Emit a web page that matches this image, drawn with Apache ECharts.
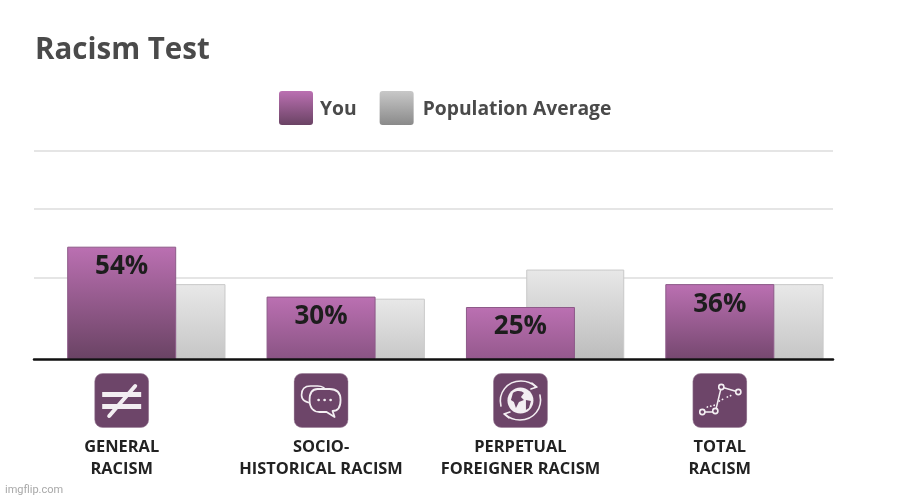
<!DOCTYPE html>
<html>
<head>
<meta charset="utf-8">
<title>Racism Test</title>
<script src="https://cdn.jsdelivr.net/npm/echarts@6/dist/echarts.min.js"></script>
<style>
html, body { margin: 0; padding: 0; background: #fff; }
#chart { width: 917px; height: 499px; }
</style>
</head>
<body>
<div id="chart"></div>
<script>
var categories = [['GENERAL', 'RACISM'], ['SOCIO-', 'HISTORICAL RACISM'], ['PERPETUAL', 'FOREIGNER RACISM'], ['TOTAL', 'RACISM']];
var youValues = [54, 30, 25, 36];
var averageValues = [36, 29, 43, 36];
var gridValues = [39, 72, 100];
var youBottoms = ['#6a4364', '#8a5484', '#95598d', '#764870'];
var averageBottoms = ['#c6c6c6', '#c8c8c8', '#bcbcbc', '#c6c6c6'];

function gradient(top, bottom) {
    return new echarts.graphic.LinearGradient(0, 0, 0, 1, [
        { offset: 0, color: top },
        { offset: 1, color: bottom }
    ]);
}

// icon tiles for the axis labels
function tile(body) {
    var svg = '<svg xmlns="http://www.w3.org/2000/svg" width="165" height="165" viewBox="0 0 55 55">' +
        '<rect x="0.5" y="0.5" width="54" height="54" rx="8" fill="#6d4569" stroke="#9c7f99" stroke-width="0.6"/>' +
        '<g fill="none" stroke="#f3eef2" stroke-linecap="round" stroke-linejoin="round">' + body + '</g></svg>';
    return 'data:image/svg+xml;charset=utf-8,' + encodeURIComponent(svg);
}
var icons = [
    tile('<path d="M8 21.5H47M8 33.5H47" stroke-width="5" stroke-linecap="butt"/><path d="M15 43L41 13" stroke-width="4"/>'),
    tile('<path d="M20 30c-6 0-12-1-12-8 0-6 3-9 9-9h7c5 0 8 2 9 6" stroke-width="1.6"/>' +
        '<path d="M24 16h12c7 0 11 4 11 11 0 7-3 11-8 11l2 6-8-5H26c-6 0-10-4-10-12 0-7 3-11 8-11z" stroke-width="1.8" fill="#6d4569"/>' +
        '<path d="M25 27h.1M31 27h.1M37 27h.1" stroke-width="2.6"/>'),
    tile('<circle cx="27.5" cy="27.5" r="13" fill="#f3eef2" stroke="none"/>' +
        '<path d="M20 20c4-3 9-2 11 0l-3 4 3 3-5 2-3 6-2-6-3-2zM33 27l5 1-2 7-3 2z" fill="#6d4569" stroke="none"/>' +
        '<path d="M8 33C5 20 14 8 28 8c6 0 11 2 15 6M47 22c3 13-6 25-20 25-6 0-11-2-15-6" stroke-width="1.6"/>' +
        '<path d="M39 10l5 4-6 2M16 45l-5-4 6-2" stroke-width="1.6"/>'),
    tile('<path d="M11 39H23L29 14L46 19" stroke-width="1.5"/>' +
        '<circle cx="10" cy="39" r="2.6" stroke-width="1.6" fill="#6d4569"/><circle cx="23" cy="38" r="2.6" stroke-width="1.6" fill="#6d4569"/>' +
        '<circle cx="29" cy="14" r="2.6" stroke-width="1.6" fill="#6d4569"/><circle cx="46" cy="19" r="2.6" stroke-width="1.6" fill="#6d4569"/>' +
        '<path d="M15 34l8-2M27 28l4-2M35 24l5-2" stroke-width="1.8" stroke-dasharray="0.1 3.4"/>')
];

var labelRich = {
    gap: { height: 8, lineHeight: 8, fontSize: 1 },
    t: { fontFamily: 'Open Sans', fontWeight: 'bold', fontSize: 16.4, lineHeight: 22, color: '#222222' }
};
icons.forEach(function (src, i) {
    labelRich['icon' + i] = { width: 55, height: 55, lineHeight: 55, backgroundColor: { image: src } };
});

function plainAxis(gridIndex) {
    return {
        gridIndex: gridIndex,
        type: 'category',
        data: categories.map(function (c) { return c.join(' '); }),
        axisLine: { show: false },
        axisTick: { show: false },
        axisLabel: { show: false }
    };
}

var swatch = 'path://M3 0H31A3 3 0 0 1 34 3V31A3 3 0 0 1 31 34H3A3 3 0 0 1 0 31V3A3 3 0 0 1 3 0Z';

var chart = echarts.init(document.getElementById('chart'));
var option = {
    backgroundColor: '#ffffff',
    animation: false,
    title: [
        {
            text: 'Racism Test',
            left: 30,
            top: 31,
            textStyle: { fontFamily: 'Open Sans', fontWeight: 'bold', fontSize: 29.5, color: '#4a4a4a' }
        },
        {
            text: 'imgflip.com',
            left: 0,
            top: 480,
            textStyle: { fontFamily: 'Roboto', fontWeight: 'normal', fontSize: 11, color: '#a8a8a8' }
        }
    ],
    legend: {
        left: 274,
        top: 86,
        itemWidth: 34,
        itemHeight: 34,
        itemGap: 23,
        icon: swatch,
        formatter: function (name) {
            return (name === 'You' ? '{you|' : '{avg|') + name + '}';
        },
        textStyle: {
            rich: {
                you: { fontFamily: 'Open Sans', fontWeight: 'bold', fontSize: 19.3, color: '#4a4a4a', padding: [4, 0, 0, 2] },
                avg: { fontFamily: 'Open Sans', fontWeight: 'bold', fontSize: 19.3, color: '#4a4a4a', padding: [4, 0, 0, 4] }
            }
        },
        data: [
            { name: 'You', itemStyle: { color: gradient('#bb70b2', '#6a4364'), borderWidth: 0 } },
            { name: 'Population Average', itemStyle: { color: gradient('#c8c8c8', '#8a8a8a'), borderWidth: 0 } }
        ]
    },
    // 0: rules and baseline, 1: You bars and labels, 2: average bars
    grid: [
        { left: 34, width: 799, top: 151, height: 208 },
        { left: 22, width: 797.5, top: 151, height: 208 },
        { left: 76.8, width: 797.5, top: 151, height: 208 }
    ],
    xAxis: [
        {
            gridIndex: 0,
            type: 'category',
            data: categories.map(function (c) { return c.join(' '); }),
            z: 6,
            axisLine: { lineStyle: { color: '#111111', width: 2.5 } },
            axisTick: { show: false },
            axisLabel: { show: false }
        },
        {
            gridIndex: 1,
            type: 'category',
            data: categories.map(function (c) { return c.join(' '); }),
            axisLine: { show: false },
            axisTick: { show: false },
            axisLabel: {
                margin: 14,
                interval: 0,
                rich: labelRich,
                formatter: function (value, index) {
                    var c = categories[index];
                    return '{icon' + index + '|}\n{gap|}\n{t|' + c[0] + '}\n{t|' + c[1] + '}';
                }
            }
        },
        plainAxis(2)
    ],
    yAxis: [
        {
            gridIndex: 0,
            type: 'value',
            min: 0,
            max: 100,
            axisLine: { show: false },
            axisLabel: { show: false },
            axisTick: { show: false, customValues: gridValues },
            splitLine: { lineStyle: { color: '#dddddd', width: 1.5 } }
        },
        { gridIndex: 1, type: 'value', min: 0, max: 100, show: false },
        { gridIndex: 2, type: 'value', min: 0, max: 100, show: false }
    ],
    series: [
        {
            name: 'Population Average',
            type: 'bar',
            xAxisIndex: 2,
            yAxisIndex: 2,
            barWidth: 98,
            z: 3,
            data: averageValues.map(function (v, i) {
                return {
                    value: v,
                    itemStyle: { color: gradient('#e8e8e8', averageBottoms[i]), borderColor: '#c9c9c9', borderWidth: 1 }
                };
            })
        },
        {
            name: 'You',
            type: 'bar',
            xAxisIndex: 1,
            yAxisIndex: 1,
            barWidth: 109,
            z: 4,
            label: {
                show: true,
                position: 'insideTop',
                distance: 7,
                formatter: '{c}%',
                fontFamily: 'Open Sans',
                fontWeight: 'bold',
                fontSize: 26,
                color: '#1d1d1d'
            },
            data: youValues.map(function (v, i) {
                return {
                    value: v,
                    itemStyle: { color: gradient('#bb70b2', youBottoms[i]), borderColor: '#8d5a88', borderWidth: 1 }
                };
            })
        }
    ]
};
chart.setOption(option);
</script>
</body>
</html>
